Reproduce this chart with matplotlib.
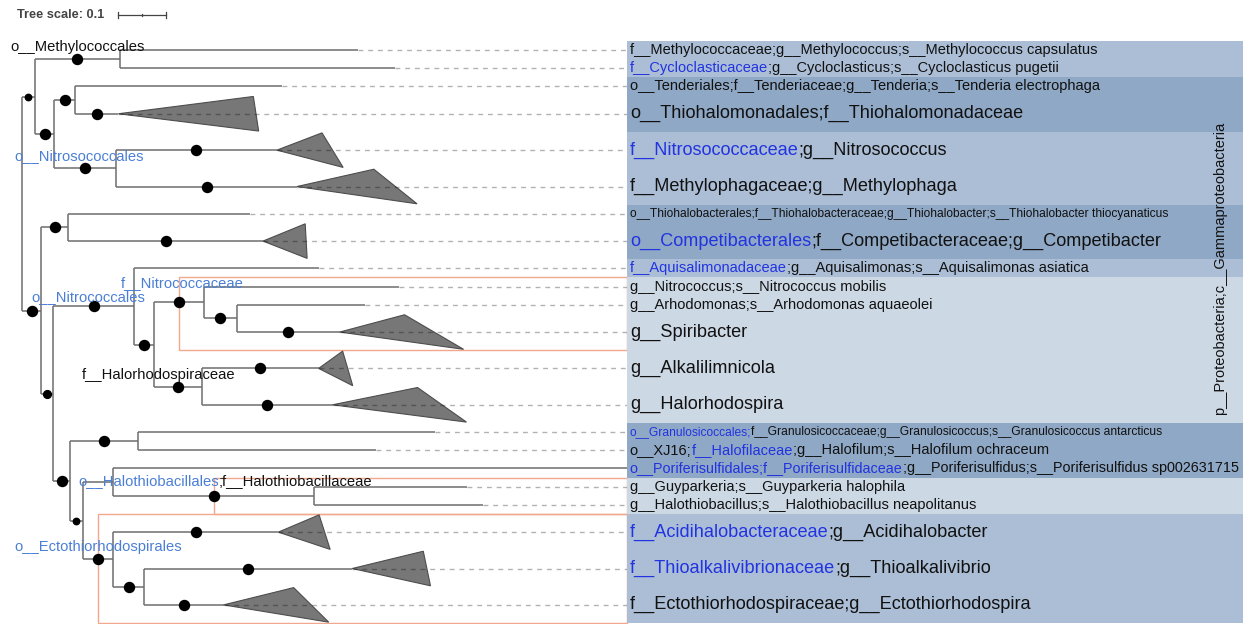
import matplotlib
matplotlib.use("Agg")
import matplotlib.pyplot as plt
from matplotlib.patches import Polygon, Rectangle

plt.rcParams['font.family'] = ['Liberation Sans', 'DejaVu Sans']

BLUE = '#2233e0'      # highlighted taxa in the label column
TREE_BLUE = '#4a7fd6' # clade names on the tree
BLACK = '#111111'

# label column, one entry per leaf (top to bottom): list of (text, colour key)
labels = [
    [("f__Methylococcaceae;g__Methylococcus;s__Methylococcus capsulatus", 'k')],
    [("f__Cycloclasticaceae", 'b'), (";g__Cycloclasticus;s__Cycloclasticus pugetii", 'k')],
    [("o__Tenderiales;f__Tenderiaceae;g__Tenderia;s__Tenderia electrophaga", 'k')],
    [("o__Thiohalomonadales;f__Thiohalomonadaceae", 'k')],
    [("f__Nitrosococcaceae", 'b'), (";g__Nitrosococcus", 'k')],
    [("f__Methylophagaceae;g__Methylophaga", 'k')],
    [("o__Thiohalobacterales;f__Thiohalobacteraceae;g__Thiohalobacter;s__Thiohalobacter thiocyanaticus", 'k')],
    [("o__Competibacterales", 'b'), (";f__Competibacteraceae;g__Competibacter", 'k')],
    [("f__Aquisalimonadaceae", 'b'), (";g__Aquisalimonas;s__Aquisalimonas asiatica", 'k')],
    [("g__Nitrococcus;s__Nitrococcus mobilis", 'k')],
    [("g__Arhodomonas;s__Arhodomonas aquaeolei", 'k')],
    [("g__Spiribacter", 'k')],
    [("g__Alkalilimnicola", 'k')],
    [("g__Halorhodospira", 'k')],
    [("o__Granulosicoccales;", 'b'), ("f__Granulosicoccaceae;g__Granulosicoccus;s__Granulosicoccus antarcticus", 'k')],
    [("o__XJ16;", 'k'), ("f__Halofilaceae", 'b'), (";g__Halofilum;s__Halofilum ochraceum", 'k')],
    [("o__Poriferisulfidales;f__Poriferisulfidaceae", 'b'), (";g__Poriferisulfidus;s__Poriferisulfidus sp002631715", 'k')],
    [("g__Guyparkeria;s__Guyparkeria halophila", 'k')],
    [("g__Halothiobacillus;s__Halothiobacillus neapolitanus", 'k')],
    [("f__Acidihalobacteraceae", 'b'), (";g__Acidihalobacter", 'k')],
    [("f__Thioalkalivibrionaceae", 'b'), (";g__Thioalkalivibrio", 'k')],
    [("f__Ectothiorhodospiraceae;g__Ectothiorhodospira", 'k')],
]

# rows taken by each leaf (collapsed clades take two)
leaf_units = [1, 1, 1, 2, 2, 2, 1, 2, 1, 1, 1, 2, 2, 2, 1, 1, 1, 1, 1, 2, 2, 2]

# collapsed clades: leaf -> (depth of upper corner, depth of lower corner)
collapsed = {
    3: (0.281, 0.292), 4: (0.094, 0.138), 5: (0.160, 0.250),
    7: (0.088, 0.092), 11: (0.135, 0.258), 12: (0.050, 0.071),
    13: (0.177, 0.279), 19: (0.085, 0.108), 20: (0.148, 0.163),
    21: (0.146, 0.219),
}

# tree: (branch length, support, children or leaf index)
tree = (0.0, None, [
    (0.027, 60, [
        (0.177, 100, [(0.496, None, 0), (0.573, None, 1)]),
        (0.040, 100, [
            (0.044, 100, [(0.431, None, 2), (0.090, 100, 3)]),
            (0.129, 100, [(0.335, 100, 4), (0.377, 100, 5)]),
        ]),
    ]),
    (0.040, 100, [
        (0.056, 100, [(0.379, None, 6), (0.406, 100, 7)]),
        (0.025, 80, [
            (0.169, 100, [
                (0.385, None, 8),
                (0.042, 100, [
                    (0.104, 100, [
                        (0.406, None, 9),
                        (0.067, 100, [(0.267, None, 10), (0.215, 100, 11)]),
                    ]),
                    (0.098, 100, [(0.244, 100, 12), (0.273, 100, 13)]),
                ]),
            ]),
            (0.035, 100, [
                (0.142, 100, [(0.619, None, 14), (0.496, None, 15)]),
                (0.027, 60, [
                    (0.063, None, [
                        (1.200, None, 16),
                        (0.419, 100, [(0.319, None, 17), (0.352, None, 18)]),
                    ]),
                    (0.063, 100, [
                        (0.344, 100, 19),
                        (0.065, 100, [(0.433, 100, 20), (0.165, 100, 21)]),
                    ]),
                ]),
            ]),
        ]),
    ]),
])

# coloured bands behind the labels: (first leaf, last leaf, shade)
bands = [(0, 1, 'mid'), (2, 3, 'dark'), (4, 5, 'mid'), (6, 7, 'dark'), (8, 8, 'mid'),
         (9, 13, 'pale'), (14, 16, 'dark'), (17, 18, 'pale'), (19, 21, 'mid')]
band_colors = {'mid': '#abbed6', 'dark': '#8fa8c5', 'pale': '#cdd8e5'}

# clades boxed in orange: (first leaf, last leaf)
boxed = [(9, 11), (17, 18), (19, 21)]

# clade names written on the tree: (segments, x in tree units, row position)
tree_labels = [
    ([("o__Methylococcales", BLACK)], -0.025, 0.33),
    ([("o__Nitrosococcales", TREE_BLUE)], -0.015, 6.32),
    ([("f__Nitrococcaceae", TREE_BLUE)], 0.206, 13.30),
    ([("o__Nitrococcales", TREE_BLUE)], 0.019, 14.07),
    ([("f__Halorhodospiraceae", BLACK)], 0.125, 18.36),
    ([("o__Halothiobacillales", TREE_BLUE), (";f__Halothiobacillaceae", BLACK)], 0.117, 24.19),
    ([("o__Ectothiorhodospirales", TREE_BLUE)], -0.015, 27.82),
]

rank_label = "p__Proteobacteria;c__Gammaproteobacteria"
scale_len = 0.1

# layout
label_x = 1.2604
band_right = 2.5437
label_sizes = [10.5 if u == 1 else 13.1 for u in leaf_units]
label_sizes[6] = 8.65
label_sizes[14] = 8.65
label_sizes[16] = 10.4
line_col = '#6e6e6e'

fig = plt.figure(figsize=(12.52, 6.24), dpi=100)
ax = fig.add_axes([0, 0, 1, 1])
ax.set_xlim(-22 / 480, 1230 / 480)
ax.set_ylim(583 / 18.19, -41 / 18.19)
ax.axis('off')

# row centres and edges
row_top = []
acc = 0
for u in leaf_units:
    row_top.append(acc)
    acc += u
row_mid = [t + u / 2 for t, u in zip(row_top, leaf_units)]

tips = {}
stem_mid = {}


def draw(node, x_parent):
    length, support, kids = node
    x = x_parent + length
    if isinstance(kids, int):
        y = row_mid[kids]
        leaves = [kids]
        tips[kids] = x
    else:
        ys, leaves = [], []
        for k in kids:
            yk, lk = draw(k, x)
            ys.append(yk)
            leaves += lk
        y = (ys[0] + ys[-1]) / 2
        ax.plot([x, x], [ys[0], ys[-1]], color=line_col, lw=1.1, zorder=2,
                solid_capstyle='butt')
    if length > 0:
        ax.plot([x_parent, x], [y, y], color=line_col, lw=1.1, zorder=2,
                solid_capstyle='butt')
    mid = (x_parent + x) / 2
    stem_mid[(min(leaves), max(leaves))] = mid
    if support is not None:
        ms = 7.2 if support >= 100 else (5.6 if support >= 80 else 4.6)
        ax.plot(mid, y, 'o', color='black', ms=ms, zorder=5)
    return y, leaves


draw(tree, 0.0)

# collapsed clades and dashed guides to the label column
for i, x in tips.items():
    y = row_mid[i]
    if i in collapsed:
        top, bot = collapsed[i]
        tri = Polygon([(x, y), (x + top, row_top[i] + 0.05),
                       (x + bot, row_top[i] + leaf_units[i] - 0.05)],
                      closed=True, facecolor='#777777', edgecolor='#4d4d4d',
                      lw=0.8, zorder=3)
        ax.add_patch(tri)
    if x < label_x:
        ax.plot([x, label_x], [y, y], color='black', alpha=0.3, lw=1.0,
                dashes=(3.5, 3.5), zorder=4)

# orange boxes around highlighted clades
for a, b in boxed:
    left = stem_mid[(a, b)]
    y0 = row_top[a]
    y1 = row_top[b] + leaf_units[b]
    ax.add_patch(Rectangle((left, y0), label_x - left, y1 - y0, facecolor='none',
                           edgecolor='#f2a88c', lw=1.0, zorder=1))

# label column bands
for a, b, shade in bands:
    y0 = row_top[a]
    y1 = row_top[b] + leaf_units[b]
    ax.add_patch(Rectangle((label_x, y0), band_right - label_x, y1 - y0,
                           facecolor=band_colors[shade], edgecolor='none', zorder=6))


def segmented_text(segments, x, y, size):
    t = ax.text(x, y, segments[0][0], color=segments[0][1], fontsize=size,
                va='center', ha='left', zorder=8)
    for s, c in segments[1:]:
        t = ax.annotate(s, xy=(1, 0), xycoords=t, color=c, fontsize=size,
                        va='bottom', ha='left', zorder=8)


cmap = {'k': BLACK, 'b': BLUE}
for i, segs in enumerate(labels):
    segmented_text([(s, cmap[c]) for s, c in segs], label_x + 0.006, row_mid[i],
                   label_sizes[i])

for segs, x, y in tree_labels:
    segmented_text(segs, x, y, 10.6)

ax.text(2.496, 12.48, rank_label, rotation=90, fontsize=10.5, color=BLACK,
        va='center', ha='center', zorder=8)

# tree scale bar
sy = -1.43
ax.text(-0.01, sy, "Tree scale: 0.1", fontsize=9.2, fontweight='bold',
        color='#444444', va='center', ha='left')
sx0 = 0.2
ax.plot([sx0, sx0 + scale_len], [sy, sy], color='#444444', lw=0.9)
for tx, h in [(sx0, 0.17), (sx0 + scale_len / 2, 0.08), (sx0 + scale_len, 0.17)]:
    ax.plot([tx, tx], [sy - h, sy + h], color='#444444', lw=0.9)

fig.savefig('out.png', dpi=100)
